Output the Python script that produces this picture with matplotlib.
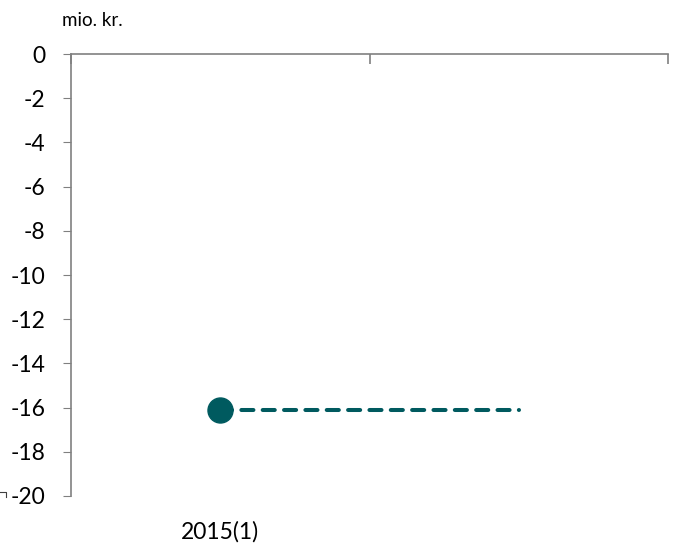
import matplotlib
matplotlib.use("Agg")
import matplotlib.pyplot as plt
from matplotlib.lines import Line2D
import matplotlib.transforms as mtransforms

plt.rcParams['font.family'] = ['Lato', 'DejaVu Sans']

categories = ["2015(1)", ""]
values = [-16.1, -16.1]
yticks = list(range(0, -21, -2))

teal = "#005A5F"
grey = "#808080"

fig = plt.figure(figsize=(6.75, 5.5), dpi=100)
ax = fig.add_axes([71/675, 1-496/550, (668-71)/675, (496-54)/550])

x = list(range(len(categories)))
ax.plot(x, values, color=teal, lw=2.9, ls=(0, (3.0, 2.3)), dash_capstyle="round", zorder=3)
ax.plot(x[:1], values[:1], "o", color=teal, ms=18, zorder=4)

ax.set_xlim(-0.5, len(categories) - 0.5)
ax.set_ylim(-20, 0)
ax.set_yticks(yticks)
ax.set_yticklabels([str(v) for v in yticks], fontsize=16.5)
ax.tick_params(axis="y", direction="out", length=5.5, color=grey, pad=13)

# x-axis line sits at 0 (top), with category boundary ticks pointing down
ax.xaxis.tick_top()
ax.set_xticks([i - 0.5 for i in range(len(categories) + 1)])
ax.set_xticklabels([])
ax.tick_params(axis="x", direction="in", length=7, color=grey, width=1.2)

for s in ("right", "bottom"):
    ax.spines[s].set_visible(False)
for s in ("left", "top"):
    ax.spines[s].set_color(grey)
    ax.spines[s].set_linewidth(1.2)

trans = mtransforms.blended_transform_factory(ax.transData, ax.transAxes)
for i, c in enumerate(categories):
    ax.text(i, -0.08, c, transform=trans, ha="center", va="center", fontsize=16.5)

fig.text(62/675, 1-20/550, "mio. kr.", ha="left", va="center", fontsize=13.5)

# small stray mark at bottom-left
fig.add_artist(Line2D([0, 6/675, 6/675], [1-492/550, 1-492/550, 1-497/550],
                      transform=fig.transFigure, color="#404040", lw=0.8))

fig.savefig("out.png", dpi=100)
